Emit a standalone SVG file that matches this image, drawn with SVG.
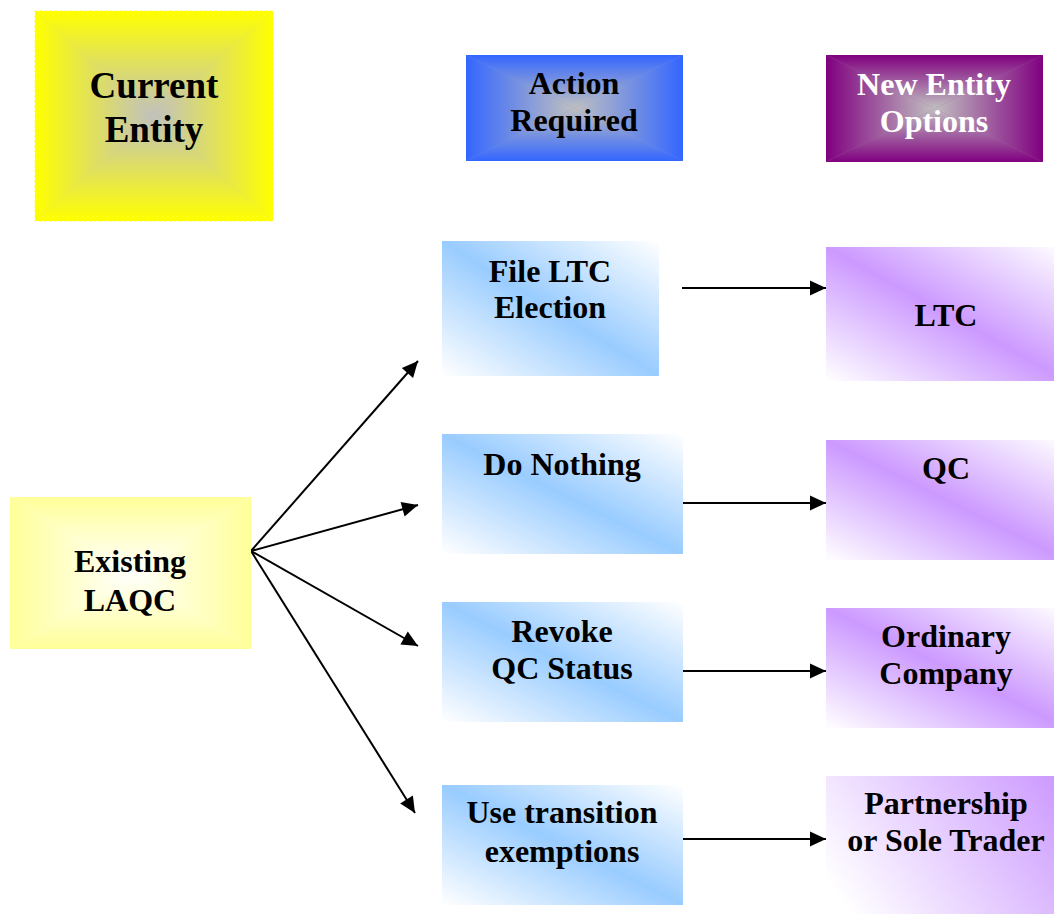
<svg xmlns="http://www.w3.org/2000/svg" width="1054" height="914" viewBox="0 0 1054 914">
<style>
text{font-family:"Liberation Serif","Times New Roman",serif;font-weight:bold;font-size:32px;fill:#000;text-anchor:middle}
.big{font-size:37px}
.wt{fill:#fff}
.ln{stroke:#000;stroke-width:2;fill:none}
</style>
<defs>
<marker id="ah" markerUnits="userSpaceOnUse" markerWidth="17" markerHeight="16" refX="16" refY="7.5" orient="auto" overflow="visible"><path d="M0,0 L16,7.5 L0,15 z" fill="#000"/></marker>
<!-- rectangular path gradients built from four directional linear gradients -->
<linearGradient id="yS"><stop offset="0" stop-color="#ffff00"/><stop offset="1" stop-color="#c0c0c0"/></linearGradient>
<linearGradient id="yT" href="#yS" x1="0" y1="0" x2="0" y2="1"/>
<linearGradient id="yB" href="#yS" x1="0" y1="1" x2="0" y2="0"/>
<linearGradient id="yL" href="#yS" x1="0" y1="0" x2="1" y2="0"/>
<linearGradient id="yR" href="#yS" x1="1" y1="0" x2="0" y2="0"/>
<linearGradient id="bS"><stop offset="0" stop-color="#3366ff"/><stop offset="1" stop-color="#c0c0c0"/></linearGradient>
<linearGradient id="bT" href="#bS" x1="0" y1="0" x2="0" y2="1"/>
<linearGradient id="bB" href="#bS" x1="0" y1="1" x2="0" y2="0"/>
<linearGradient id="bL" href="#bS" x1="0" y1="0" x2="1" y2="0"/>
<linearGradient id="bR" href="#bS" x1="1" y1="0" x2="0" y2="0"/>
<linearGradient id="pS"><stop offset="0" stop-color="#800080"/><stop offset="1" stop-color="#c0c0c0"/></linearGradient>
<linearGradient id="pT" href="#pS" x1="0" y1="0" x2="0" y2="1"/>
<linearGradient id="pB" href="#pS" x1="0" y1="1" x2="0" y2="0"/>
<linearGradient id="pL" href="#pS" x1="0" y1="0" x2="1" y2="0"/>
<linearGradient id="pR" href="#pS" x1="1" y1="0" x2="0" y2="0"/>
<linearGradient id="lS"><stop offset="0" stop-color="#ffff99"/><stop offset="1" stop-color="#ffffff"/></linearGradient>
<linearGradient id="lT" href="#lS" x1="0" y1="0" x2="0" y2="1"/>
<linearGradient id="lB" href="#lS" x1="0" y1="1" x2="0" y2="0"/>
<linearGradient id="lL" href="#lS" x1="0" y1="0" x2="1" y2="0"/>
<linearGradient id="lR" href="#lS" x1="1" y1="0" x2="0" y2="0"/>
<linearGradient id="blue" x1="1" y1="0" x2="0" y2="1"><stop offset="0" stop-color="#ffffff"/><stop offset="0.5" stop-color="#99ccff"/><stop offset="1" stop-color="#ffffff"/></linearGradient>
<linearGradient id="purp" x1="1" y1="0" x2="0" y2="1"><stop offset="0" stop-color="#ffffff"/><stop offset="0.5" stop-color="#cc99ff"/><stop offset="1" stop-color="#ffffff"/></linearGradient>
<linearGradient id="purp2" gradientUnits="userSpaceOnUse" x1="1054" y1="770" x2="850" y2="914"><stop offset="0" stop-color="#cc99ff"/><stop offset="1" stop-color="#ffffff"/></linearGradient>
</defs>

<g id="connectors">
<line class="ln" x1="251" y1="551" x2="418" y2="361" marker-end="url(#ah)"/>
<line class="ln" x1="251" y1="551" x2="418" y2="505" marker-end="url(#ah)"/>
<line class="ln" x1="251" y1="551" x2="418" y2="646" marker-end="url(#ah)"/>
<line class="ln" x1="251" y1="551" x2="415" y2="813" marker-end="url(#ah)"/>
<line class="ln" x1="682" y1="288" x2="826" y2="288" marker-end="url(#ah)"/>
<line class="ln" x1="682" y1="503" x2="826" y2="503" marker-end="url(#ah)"/>
<line class="ln" x1="682" y1="671" x2="826" y2="671" marker-end="url(#ah)"/>
<line class="ln" x1="682" y1="839" x2="826" y2="839" marker-end="url(#ah)"/>
</g>

<g id="current-entity">
<rect x="35" y="11" width="238" height="210" fill="#e0e060" stroke="#ffff00" stroke-width="1" stroke-dasharray="1.5 3.5"/>
<polygon points="35,11 273,11 154,116" fill="url(#yT)"/>
<polygon points="35,221 273,221 154,116" fill="url(#yB)"/>
<polygon points="35,11 35,221 154,116" fill="url(#yL)"/>
<polygon points="273,11 273,221 154,116" fill="url(#yR)"/>
<text class="big" x="154" y="98">Current</text>
<text class="big" x="154" y="142">Entity</text>
</g>

<g id="action-required">
<rect x="466" y="55" width="217" height="106" fill="#7a93df"/>
<polygon points="466,55 683,55 574.5,108" fill="url(#bT)"/>
<polygon points="466,161 683,161 574.5,108" fill="url(#bB)"/>
<polygon points="466,55 466,161 574.5,108" fill="url(#bL)"/>
<polygon points="683,55 683,161 574.5,108" fill="url(#bR)"/>
<text x="574" y="94">Action</text>
<text x="574" y="131">Required</text>
</g>

<g id="new-entity-options">
<rect x="826" y="55" width="217" height="107" fill="#a060a0"/>
<polygon points="826,55 1043,55 934.5,108.5" fill="url(#pT)"/>
<polygon points="826,162 1043,162 934.5,108.5" fill="url(#pB)"/>
<polygon points="826,55 826,162 934.5,108.5" fill="url(#pL)"/>
<polygon points="1043,55 1043,162 934.5,108.5" fill="url(#pR)"/>
<text class="wt" x="934" y="95">New Entity</text>
<text class="wt" x="934" y="132">Options</text>
</g>

<g id="existing-laqc">
<rect x="10" y="497" width="241" height="152" fill="#ffffcc"/>
<polygon points="10,497 251,497 130.5,573" fill="url(#lT)"/>
<polygon points="10,649 251,649 130.5,573" fill="url(#lB)"/>
<polygon points="10,497 10,649 130.5,573" fill="url(#lL)"/>
<polygon points="251,497 251,649 130.5,573" fill="url(#lR)"/>
<text x="130" y="572">Existing</text>
<text x="130" y="611">LAQC</text>
</g>

<g id="file-ltc-election">
<rect x="442" y="241" width="217" height="135" fill="url(#blue)"/>
<text x="550" y="282">File LTC</text>
<text x="550" y="318">Election</text>
</g>

<g id="do-nothing">
<rect x="442" y="434" width="241" height="120" fill="url(#blue)"/>
<text x="562" y="475">Do Nothing</text>
</g>

<g id="revoke-qc-status">
<rect x="442" y="602" width="241" height="120" fill="url(#blue)"/>
<text x="562" y="642">Revoke</text>
<text x="562" y="679">QC Status</text>
</g>

<g id="use-transition-exemptions">
<rect x="442" y="785" width="241" height="120" fill="url(#blue)"/>
<text x="562" y="823">Use transition</text>
<text x="562" y="862">exemptions</text>
</g>

<g id="ltc">
<rect x="826" y="247" width="241" height="134" fill="url(#purp)"/>
<text x="946" y="326">LTC</text>
</g>

<g id="qc">
<rect x="826" y="440" width="241" height="120" fill="url(#purp)"/>
<text x="946" y="479">QC</text>
</g>

<g id="ordinary-company">
<rect x="826" y="608" width="241" height="120" fill="url(#purp)"/>
<text x="946" y="647">Ordinary</text>
<text x="946" y="684">Company</text>
</g>

<g id="partnership-sole-trader">
<rect x="826" y="776" width="241" height="150" fill="url(#purp2)"/>
<text x="946" y="814">Partnership</text>
<text x="946" y="851">or Sole Trader</text>
</g>
</svg>
